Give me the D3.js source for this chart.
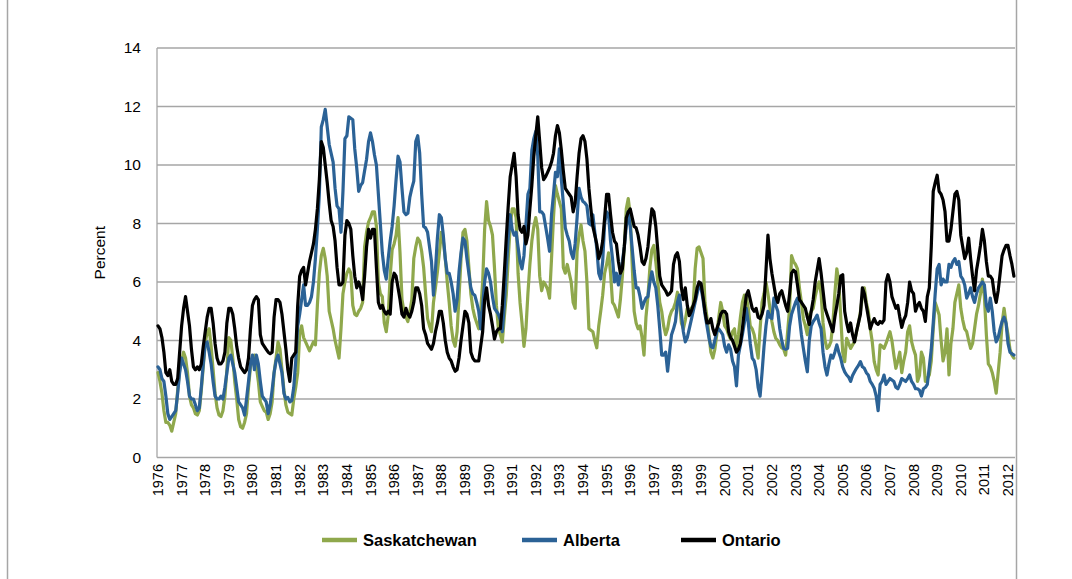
<!DOCTYPE html>
<html>
<head>
<meta charset="utf-8">
<script src="https://cdn.jsdelivr.net/npm/d3@7/dist/d3.min.js"></script>
<style>
  body { margin: 0; background: #fff; }
  text { font-family: "Liberation Sans", Arial, sans-serif; fill: #000; }
</style>
</head>
<body>
<div id="chart"></div>
<script>
// monthly values, Jan 1976 onwards (one row per year)
const startYear = 1976;
const yearLabels = d3.range(1976, 2013).map(String);
const yTicks = [0, 2, 4, 6, 8, 10, 12, 14];
const seriesNames = ["Saskatchewan", "Alberta", "Ontario"];
const seriesColors = ["#8FA84C", "#2B6296", "#000000"];

const saskatchewan = [
  2.9, 2.6, 2.2, 1.6, 1.2, 1.2, 1.1, 0.9, 1.2, 1.5, 2.3, 3.0,
  3.3, 3.6, 3.4, 2.9, 2.1, 1.8, 1.7, 1.5, 1.45, 1.6, 2.3, 3.1,
  3.9, 4.3, 4.4, 3.8, 3.0, 2.2, 1.7, 1.45, 1.4, 1.6, 2.1, 3.0,
  4.1, 4.0, 3.4, 2.6, 2.0, 1.3, 1.05, 1.0, 1.2, 1.5, 2.4, 3.1,
  3.3, 3.5, 3.1, 2.6, 1.9, 1.75, 1.6, 1.55, 1.3, 1.5, 1.9, 2.9,
  3.4, 3.95, 3.7, 3.0, 2.3, 1.8, 1.55, 1.5, 1.45, 2.0, 2.4, 2.9,
  4.2, 4.5, 4.1, 3.95, 3.8, 3.65, 3.8, 3.95, 3.85, 5.2, 6.3, 6.9,
  7.15, 6.8, 6.2, 5.0, 4.7, 4.4, 4.0, 3.7, 3.4, 4.4, 5.6, 6.0,
  6.3, 6.45, 6.3, 5.2, 4.9, 4.85, 5.0, 5.1, 5.3, 7.2, 7.7, 8.05,
  8.2, 8.4, 8.4, 7.9, 6.0, 5.6, 5.5, 4.6, 4.3, 4.85, 6.2, 7.1,
  7.3, 7.6, 8.2, 7.0, 5.4, 5.0, 4.8, 4.65, 5.0, 5.4, 6.8, 7.2,
  7.5, 7.4, 7.05, 6.5, 5.6, 4.75, 4.5, 4.3, 5.3, 5.8, 6.35, 7.0,
  7.7, 7.4, 6.8, 6.0, 5.3, 4.5, 4.0, 3.8, 4.3, 5.5, 6.8, 7.7,
  7.8, 7.4, 6.5, 5.6, 5.1, 4.8, 4.6, 4.4, 5.0, 6.0, 7.8, 8.75,
  8.1, 7.9, 7.6, 6.5, 5.2, 4.4, 4.2, 3.95, 4.8, 5.55, 6.8, 7.9,
  8.5, 8.5, 8.2, 6.3, 5.3, 4.6, 3.8, 4.4, 5.6, 6.6, 7.4, 7.9,
  8.2, 7.8, 6.2, 5.7, 6.0, 5.9, 5.75, 5.45, 6.8, 8.2, 9.3, 9.0,
  8.75, 8.5, 6.5, 6.3, 6.6, 6.3, 6.0, 5.3, 5.1, 7.05, 7.6, 7.95,
  7.4, 7.05, 6.0, 4.4, 4.35, 4.3, 4.0, 3.75, 4.5, 5.0, 5.55, 6.3,
  6.6, 7.0, 6.3, 5.3, 5.2, 5.0, 4.8, 5.4, 6.2, 7.2, 8.5, 8.85,
  8.3, 6.6, 5.0, 4.6, 4.4, 4.5, 4.1, 3.5, 4.8, 5.5, 6.5, 7.1,
  7.25, 6.7, 6.0, 5.3, 5.0, 4.5, 4.2, 4.4, 4.8, 5.0, 5.1, 5.3,
  5.65, 5.3, 4.6, 4.4, 4.7, 5.1, 5.0, 5.1, 5.2, 6.45, 7.15, 7.2,
  7.0, 6.8, 5.3, 4.8, 4.2, 3.6, 3.4, 3.7, 4.2, 4.8, 5.3, 5.0,
  4.5, 4.4, 4.2, 4.05, 4.3, 4.4, 3.73, 4.2, 4.8, 5.3, 5.55, 5.5,
  5.1, 4.5, 4.4, 4.2, 3.8, 3.4, 4.4, 5.3, 5.6, 6.0, 5.6, 5.1,
  4.65, 4.3, 4.07, 4.0, 3.85, 3.75, 3.7, 3.5, 4.3, 5.1, 6.9, 6.7,
  6.6, 6.45, 5.8, 5.3, 4.75, 4.5, 4.2, 4.87, 5.0, 5.1, 5.5, 5.8,
  6.0, 5.6, 4.6, 4.0, 3.73, 3.8, 3.96, 4.6, 5.6, 6.45, 6.0, 4.8,
  3.6, 3.28, 4.07, 3.9, 3.73, 3.85, 3.96, 4.3, 4.6, 4.99, 5.5, 5.8,
  5.3, 4.99, 4.4, 3.96, 3.28, 3.0, 2.82, 3.85, 3.8, 3.73, 3.9, 4.1,
  4.3, 4.0, 3.5, 3.05, 3.3, 3.6, 2.9, 3.3, 3.6, 4.3, 4.5, 3.96,
  3.7, 3.5, 2.6, 2.8, 3.6, 3.4, 2.6, 2.7, 2.82, 3.3, 4.4, 5.3,
  5.1, 4.87, 4.0, 3.3, 3.6, 4.4, 2.82, 3.9, 4.4, 5.3, 5.6, 5.9,
  5.1, 4.7, 4.4, 4.3, 4.0, 3.73, 3.9, 4.4, 4.9, 5.2, 5.6, 6.1,
  5.5, 4.2, 3.2, 3.1, 2.9, 2.6, 2.2, 2.9, 3.6, 4.6, 5.1, 4.6,
  4.2, 3.7, 3.5, 3.4
];

const alberta = [
  3.1, 3.0, 2.7, 2.6, 2.1, 1.5, 1.3, 1.4, 1.5, 1.6, 2.2, 2.9,
  3.4, 3.2, 3.0, 2.6, 2.1, 2.0, 2.0, 1.8, 1.6, 1.7, 2.4, 3.2,
  3.9, 3.95, 3.6, 3.2, 2.6, 2.1, 2.0, 2.0, 2.1, 2.0, 2.4, 2.9,
  3.4, 3.5, 3.2, 2.9, 2.4, 1.9, 1.8, 1.7, 1.45, 2.0, 2.6, 3.2,
  3.5, 3.0, 3.5, 3.2, 2.6, 2.1, 2.0, 1.9, 1.5, 1.8, 2.3, 2.9,
  3.3, 3.5, 3.2, 2.9, 2.2, 2.0, 2.05, 1.9, 1.95, 2.4, 3.3, 4.5,
  4.9, 5.4, 5.9, 5.2, 5.2, 5.3, 5.5, 6.0, 6.8, 7.8, 9.0, 11.3,
  11.55, 11.9, 11.3, 10.7, 10.4, 10.1, 9.2, 8.6, 8.5, 7.7, 9.1, 10.9,
  11.0, 11.65, 11.6, 11.55, 10.55, 9.9, 9.1, 9.3, 9.4, 9.8, 10.2, 10.8,
  11.1, 10.8, 10.35, 10.0, 9.0, 8.0, 7.0, 6.4, 6.1, 6.8, 7.4, 7.9,
  8.6, 9.5, 10.3, 10.1, 9.2, 8.4, 8.3, 8.35, 8.9, 9.2, 9.45, 10.8,
  11.0, 10.4, 9.0, 7.9, 7.85, 7.7, 7.2, 6.7, 5.55, 6.4, 7.5, 8.3,
  8.2, 7.6, 6.8, 6.3, 6.3, 6.0, 5.6, 5.0, 5.4, 6.35, 7.0, 7.5,
  7.4, 6.8, 6.3, 5.8, 5.6, 5.55, 5.3, 5.0, 4.4, 5.2, 6.0, 6.45,
  6.3, 6.0, 5.5, 5.1, 5.0, 4.9, 4.7, 4.3, 5.2, 6.45, 7.5, 8.3,
  7.8, 7.6, 7.7, 7.2, 6.7, 6.45, 6.9, 7.95, 9.0, 9.2, 10.5, 10.9,
  11.15, 10.3, 8.4, 8.4, 8.3, 7.9, 7.5, 7.05, 8.3, 9.0, 9.75, 9.6,
  10.55, 9.5, 8.7, 7.85, 7.6, 7.4, 7.0, 6.8, 7.3, 8.2, 9.2, 8.9,
  8.75, 8.7, 8.6, 8.0, 7.95, 8.3, 7.7, 7.15, 6.3, 6.1, 6.7, 8.0,
  8.4, 8.3, 7.4, 6.8, 6.0, 6.3, 5.9, 6.3, 6.7, 7.2, 7.9, 8.4,
  7.9, 7.15, 6.4, 5.8, 5.8, 5.5, 5.1, 5.3, 5.45, 5.5, 6.0, 6.35,
  6.0, 5.8, 5.2, 4.4, 3.5, 3.5, 3.6, 2.95, 3.6, 4.2, 4.4, 4.65,
  5.3, 5.55, 4.9, 4.3, 3.95, 4.1, 4.4, 4.7, 5.0, 5.3, 5.6, 5.9,
  5.8, 5.4, 4.9, 4.5, 4.1, 3.8, 3.75, 4.0, 4.3, 4.4, 4.3, 4.2,
  3.8, 3.6, 3.85, 3.7, 3.3, 3.1, 2.45, 3.5, 3.85, 4.2, 4.6, 5.1,
  4.6, 3.9, 3.4, 3.3, 3.0, 2.4, 2.1, 2.9, 3.8, 4.5, 5.0, 4.8,
  4.75, 5.45, 5.2, 5.0, 4.4, 4.0, 3.73, 3.7, 3.73, 4.5, 4.9, 5.1,
  5.3, 5.45, 4.8, 4.2, 3.73, 3.3, 2.93, 4.0, 4.5, 4.65, 4.75, 4.87,
  4.6, 4.4, 3.6, 3.1, 2.82, 3.2, 3.5, 3.4, 3.6, 3.85, 3.6, 3.39,
  3.1, 2.93, 2.82, 2.75, 2.6, 2.8, 2.93, 3.05, 3.15, 3.28, 3.1, 3.05,
  2.9, 2.82, 2.6, 2.5, 2.37, 2.1, 1.6, 2.5, 2.6, 2.82, 2.5, 2.6,
  2.7, 2.65, 2.6, 2.4, 2.35, 2.5, 2.7, 2.65, 2.6, 2.7, 2.82, 2.6,
  2.5, 2.35, 2.35, 2.3, 2.1, 2.35, 2.4, 2.5, 3.1, 3.7, 4.6, 5.6,
  6.45, 6.6, 5.9, 6.1, 6.0, 6.0, 6.6, 6.5, 6.7, 6.8, 6.6, 6.7,
  6.2, 6.1, 5.9, 5.45, 5.6, 5.8, 5.5, 5.3, 5.6, 5.8, 5.9, 6.0,
  5.9, 5.2, 5.0, 5.45, 5.0, 4.3, 3.95, 4.1, 4.4, 4.65, 4.8, 4.6,
  3.9, 3.6, 3.55, 3.5
];

const ontario = [
  4.5, 4.4, 4.1, 3.6, 2.9, 2.8, 3.0, 2.6, 2.5, 2.5, 2.7, 3.6,
  4.5, 5.1, 5.5, 5.0, 4.5, 3.7, 3.1, 3.0, 3.1, 3.0, 3.2, 3.8,
  4.3, 4.8, 5.1, 5.1, 4.6, 3.9, 3.4, 3.2, 3.2, 3.3, 3.6, 4.6,
  5.1, 5.1, 4.9, 4.4, 3.8, 3.4, 3.1, 3.0, 2.9, 3.0, 3.4, 4.4,
  5.2, 5.4, 5.5, 5.4, 4.2, 3.9, 3.8, 3.7, 3.6, 3.55, 3.6, 4.8,
  5.4, 5.4, 5.3, 4.9, 4.3, 3.7, 3.0, 2.6, 3.4, 3.5, 3.6, 5.2,
  6.2, 6.4, 6.5, 5.9, 6.3, 6.7, 7.0, 7.3, 7.8, 8.5, 9.5, 10.8,
  10.6, 10.0, 9.4, 8.7, 8.1, 7.9, 7.4, 6.5, 5.9, 5.9, 6.0, 7.6,
  8.1, 8.0, 7.8, 6.9, 6.2, 5.8, 6.0, 5.8, 5.4, 6.2, 7.2, 7.8,
  7.5, 7.8, 7.8, 6.5, 5.3, 5.1, 5.2, 5.0, 4.9, 5.0, 4.9, 6.0,
  6.3, 6.2, 5.8, 5.4, 4.9, 4.8, 5.1, 4.9, 4.8, 5.0, 5.3, 5.8,
  5.8, 5.6, 5.2, 4.4, 4.2, 3.9, 3.8, 3.7, 3.9, 4.3, 4.6, 5.0,
  5.0, 4.6, 4.0, 3.6, 3.4, 3.3, 3.1, 2.95, 3.0, 3.4, 4.0, 4.5,
  5.0, 4.9, 4.6, 3.6, 3.4, 3.3, 3.3, 3.3, 3.8, 4.3, 5.4, 5.8,
  5.2, 4.9, 4.5, 4.05, 4.3, 4.4, 4.4, 5.2, 6.3, 7.5, 8.6, 9.6,
  10.0, 10.4, 9.6, 8.3, 7.8, 7.7, 7.9, 7.3, 7.6, 8.5, 9.3, 10.3,
  11.0, 11.65, 10.8, 9.9, 9.5, 9.6, 9.75, 9.9, 10.1, 10.4, 11.0, 11.35,
  11.1, 10.5, 9.8, 9.2, 9.1, 9.0, 8.9, 8.4, 8.7, 9.6, 10.4, 10.9,
  11.0, 10.8, 10.2, 9.2, 8.5, 7.9, 7.6, 7.3, 6.8, 7.0, 7.4, 8.2,
  9.0, 9.0, 8.3, 7.7, 7.4, 7.3, 6.7, 6.3, 6.45, 7.2, 8.2, 8.4,
  8.5, 8.2, 7.9, 7.85, 7.6, 7.2, 6.7, 6.6, 6.8, 7.2, 7.9, 8.5,
  8.4, 7.9, 7.1, 6.2, 5.9, 5.8, 5.7, 5.55, 5.6, 5.7, 6.6, 6.9,
  7.0, 6.7, 5.8, 5.4, 5.8, 5.2, 4.85, 5.0, 5.2, 5.4, 5.8, 6.0,
  5.95, 5.5, 5.0, 4.6, 4.6, 4.75, 4.4, 4.2, 4.4, 4.6, 4.9, 5.0,
  5.0, 4.9, 4.3, 4.1, 4.0, 3.8, 3.6, 3.7, 3.9, 4.4, 5.0, 5.55,
  5.7, 5.4, 5.1, 5.0, 5.1, 4.8, 4.75, 4.9, 5.2, 6.4, 7.6, 6.8,
  6.3, 5.9, 5.5, 5.3, 5.6, 5.7, 5.45, 5.2, 5.0, 5.6, 6.3, 6.4,
  6.35, 5.9, 5.4, 5.3, 5.2, 5.1, 4.8, 4.55, 5.0, 5.4, 6.0, 6.4,
  6.8, 6.3, 5.7, 5.1, 4.9, 4.7, 4.5, 4.3, 4.8, 5.2, 5.6, 6.2,
  6.25, 5.0, 4.6, 4.3, 4.6, 4.2, 3.95, 4.3, 4.6, 4.9, 5.8, 5.6,
  5.2, 4.8, 4.4, 4.6, 4.75, 4.6, 4.55, 4.65, 4.6, 4.7, 6.0, 6.25,
  6.0, 5.5, 5.3, 5.1, 5.2, 4.8, 4.45, 4.7, 4.85, 5.3, 6.0, 5.7,
  5.6, 5.0, 5.2, 5.3, 5.1, 5.0, 4.65, 5.5, 5.8, 7.2, 9.1, 9.4,
  9.65, 9.1, 9.0, 8.8, 8.4, 7.4, 7.4, 7.8, 8.4, 9.0, 9.1, 8.8,
  7.6, 7.2, 6.8, 7.0, 7.5, 6.8, 6.2, 5.7, 6.4, 6.8, 7.25, 7.8,
  7.4, 6.7, 6.2, 6.2, 6.1, 5.6, 5.3, 5.7, 6.3, 6.9, 7.1, 7.25,
  7.25, 6.9, 6.6, 6.2
];

const series = [saskatchewan, alberta, ontario];

const width = 1072, height = 579;
const svg = d3.select("#chart")
    .append("svg")
    .attr("width", width)
    .attr("height", height);

// month index -> x, label for each January
const x = d3.scaleLinear()
    .domain([0, 432])
    .range([158, 1008]);

const y = d3.scaleLinear()
    .domain([0, 14])
    .range([457.5, 48]);

const plotLeft = 157, plotRight = 1015;

// outer chart frame (left and right edges visible)
svg.append("line")
    .attr("x1", 7.5).attr("x2", 7.5)
    .attr("y1", 0).attr("y2", height)
    .attr("stroke", "#a6a6a6").attr("stroke-width", 1.5);
svg.append("line")
    .attr("x1", 1016.5).attr("x2", 1016.5)
    .attr("y1", 0).attr("y2", height)
    .attr("stroke", "#a6a6a6").attr("stroke-width", 1.5);

// horizontal gridlines
svg.append("g")
    .selectAll("line")
    .data(yTicks)
    .enter()
    .append("line")
    .attr("x1", plotLeft)
    .attr("x2", plotRight)
    .attr("y1", d => y(d))
    .attr("y2", d => y(d))
    .attr("stroke", "#a6a6a6")
    .attr("stroke-width", 1.3);

// y axis line
svg.append("line")
    .attr("x1", plotLeft).attr("x2", plotLeft)
    .attr("y1", y(14)).attr("y2", y(0))
    .attr("stroke", "#a6a6a6").attr("stroke-width", 1.3);

// y tick labels
svg.append("g")
    .selectAll("text")
    .data(yTicks)
    .enter()
    .append("text")
    .attr("x", 141)
    .attr("y", d => y(d))
    .attr("dy", "0.35em")
    .style("text-anchor", "end")
    .style("font-size", "15.5px")
    .text(d => d);

// y axis title
svg.append("text")
    .attr("transform", `translate(105, ${y(7)}) rotate(-90)`)
    .style("text-anchor", "middle")
    .style("font-size", "15.5px")
    .text("Percent");

// x tick labels (rotated)
svg.append("g")
    .selectAll("text")
    .data(yearLabels)
    .enter()
    .append("text")
    .attr("transform", (d, i) => `translate(${x(i * 12) + 5}, 464) rotate(-90)`)
    .style("text-anchor", "end")
    .style("font-size", "14.5px")
    .text(d => d);

// series lines
const line = d3.line()
    .x((d, i) => x(i))
    .y(d => y(d));

svg.append("g")
    .selectAll("path")
    .data(series)
    .enter()
    .append("path")
    .attr("d", d => line(d))
    .attr("fill", "none")
    .attr("stroke", (d, i) => seriesColors[i])
    .attr("stroke-width", 3.2)
    .attr("stroke-linejoin", "round")
    .attr("stroke-linecap", "round");

// legend
const legendX = [322, 522, 681];
const legend = svg.append("g")
    .selectAll("g")
    .data(seriesNames)
    .enter()
    .append("g")
    .attr("transform", (d, i) => `translate(${legendX[i]}, 540)`);

legend.append("line")
    .attr("x1", 0).attr("x2", 35)
    .attr("y1", 0).attr("y2", 0)
    .attr("stroke", (d, i) => seriesColors[i])
    .attr("stroke-width", 4.5);

legend.append("text")
    .attr("x", 41)
    .attr("y", 0)
    .attr("dy", "0.36em")
    .style("font-size", "16.5px")
    .style("font-weight", "bold")
    .text(d => d);
</script>
</body>
</html>
